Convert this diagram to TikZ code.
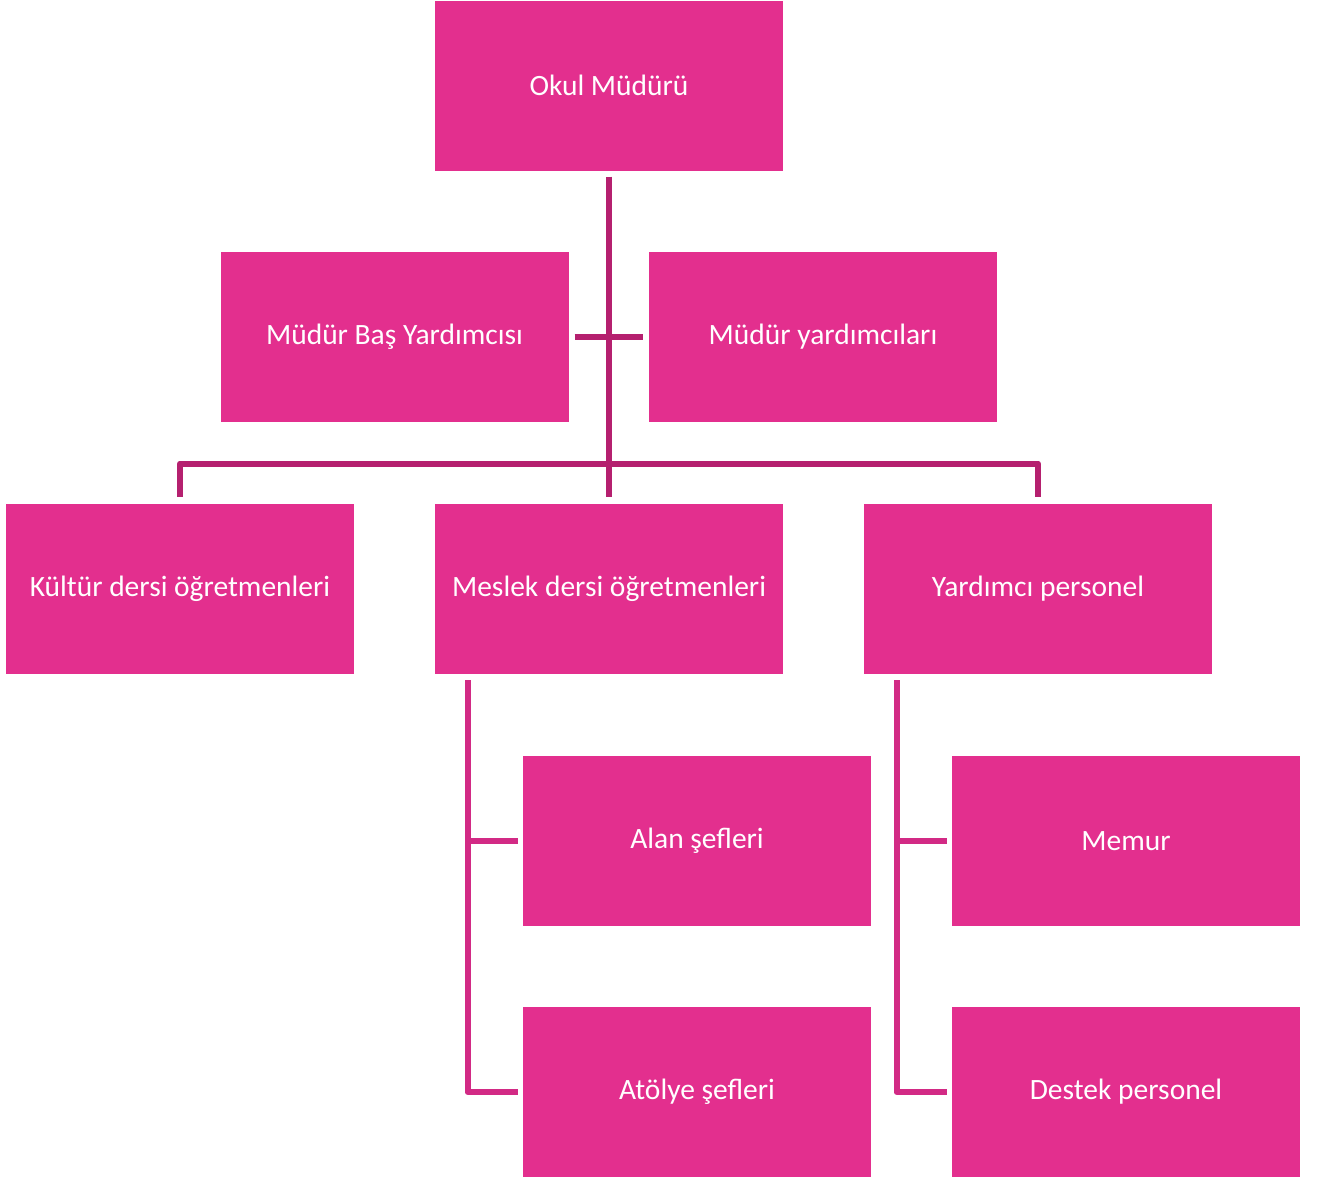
\documentclass[tikz,border=0pt]{standalone}
\usepackage{fontspec}
\setmainfont{Carlito}
\definecolor{boxpink}{HTML}{E32F8E}
\definecolor{lineA}{HTML}{B5206F}
\definecolor{lineB}{HTML}{D22A85}
\begin{document}
\begin{tikzpicture}[x=1pt,y=-1pt,
  orgbox/.style={fill=boxpink,draw=none,minimum width=348pt,minimum height=170pt,inner sep=0pt,text=white,font=\fontsize{29.5}{34}\selectfont},
  linkA/.style={draw=lineA,line width=6pt,line join=round},
  linkB/.style={draw=lineB,line width=6pt,line join=round}]
\useasboundingbox (0,0) rectangle (1321,1178);
\node[orgbox] (okul) at (609,85.5) {Okul Müdürü};
\node[orgbox] (bas) at (394.5,337) {Müdür Baş Yardımcısı};
\node[orgbox] (yard) at (823,337) {Müdür yardımcıları};
\node[orgbox] (kultur) at (180,589) {Kültür dersi öğretmenleri};
\node[orgbox] (meslek) at (609,589) {Meslek dersi öğretmenleri};
\node[orgbox] (ypers) at (1038,589) {Yardımcı personel};
\node[orgbox] (alan) at (697,841) {Alan şefleri};
\node[orgbox] (atolye) at (697,1092) {Atölye şefleri};
\node[orgbox] (memur) at (1126,841) {Memur};
\node[orgbox] (destek) at (1126,1092) {Destek personel};
% top tree
\coordinate (j1) at (609,463.5);
\draw[linkA] ([yshift=-6pt]okul.south) -- ([yshift=7pt]meslek.north);
\draw[linkA] ([xshift=6pt]bas.east) -- ([xshift=-6pt]yard.west);
\draw[linkA] ([yshift=7pt]kultur.north) -- (kultur.north |- j1) -- (ypers.north |- j1) -- ([yshift=7pt]ypers.north);
% meslek subtree
\coordinate (ms) at (467.5,680);
\draw[linkB] (ms) -- (ms |- atolye.west) -- ([xshift=-5pt]atolye.west);
\draw[linkB] (ms |- alan.west) -- ([xshift=-5pt]alan.west);
% yardimci subtree
\coordinate (ys) at (896.5,680);
\draw[linkB] (ys) -- (ys |- destek.west) -- ([xshift=-5pt]destek.west);
\draw[linkB] (ys |- memur.west) -- ([xshift=-5pt]memur.west);
\end{tikzpicture}
\end{document}
